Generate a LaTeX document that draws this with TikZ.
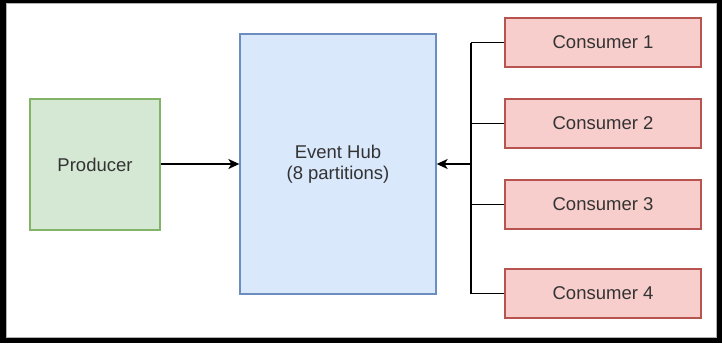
\documentclass[tikz,border=0pt]{standalone}
\usepackage{fontspec}
\setmainfont{Liberation Sans}
\usetikzlibrary{arrows.meta}
\definecolor{gfill}{HTML}{D5E8D4}
\definecolor{gline}{HTML}{82B366}
\definecolor{bfill}{HTML}{DAE8FC}
\definecolor{bline}{HTML}{6C8EBF}
\definecolor{rfill}{HTML}{F8CECC}
\definecolor{rline}{HTML}{B85450}
\definecolor{txt}{HTML}{333333}
\begin{document}
\begin{tikzpicture}[x=1pt,y=-1pt,
  box/.style={draw, line width=1.3pt, inner sep=0pt, align=center, text=txt,
    font=\fontsize{18.5}{21}\selectfont},
  greenbox/.style={box, fill=gfill, draw=gline, minimum width=130pt, minimum height=131pt},
  bluebox/.style={box, fill=bfill, draw=bline, minimum width=196pt, minimum height=260pt},
  redbox/.style={box, fill=rfill, draw=rline, minimum width=196pt, minimum height=49pt},
  link/.style={line width=1.5pt, black},
  arr/.style={link, -{Stealth[length=11pt,width=10pt,inset=3pt]}}]
\useasboundingbox (0,0) rectangle (722,343);
\fill[black] (0,0) rectangle (722,343);
\fill[white] (6,3) rectangle (717,338);
\draw[gray!60, line width=0.8pt] (6.4,3.4) rectangle (716.6,337.6);
\node[greenbox] (prod) at (95,164.5) {Producer};
\node[bluebox] (hub) at (338,164) {Event Hub\\(8 partitions)};
\node[redbox] (c1) at (603,42.5) {Consumer 1};
\node[redbox] (c2) at (603,123.5) {Consumer 2};
\node[redbox] (c3) at (603,204.5) {Consumer 3};
\node[redbox] (c4) at (603,293.5) {Consumer 4};
\coordinate (bus) at (471,164);
\draw[arr] (prod.east |- hub) -- (hub.west);
\draw[link] (c1.west -| bus) -- (c4.west -| bus);
\draw[link] (c1.west) -- (c1.west -| bus);
\draw[link] (c2.west) -- (c2.west -| bus);
\draw[link] (c3.west) -- (c3.west -| bus);
\draw[link] (c4.west) -- (c4.west -| bus);
\draw[arr] (bus) -- (hub.east);
\end{tikzpicture}
\end{document}
